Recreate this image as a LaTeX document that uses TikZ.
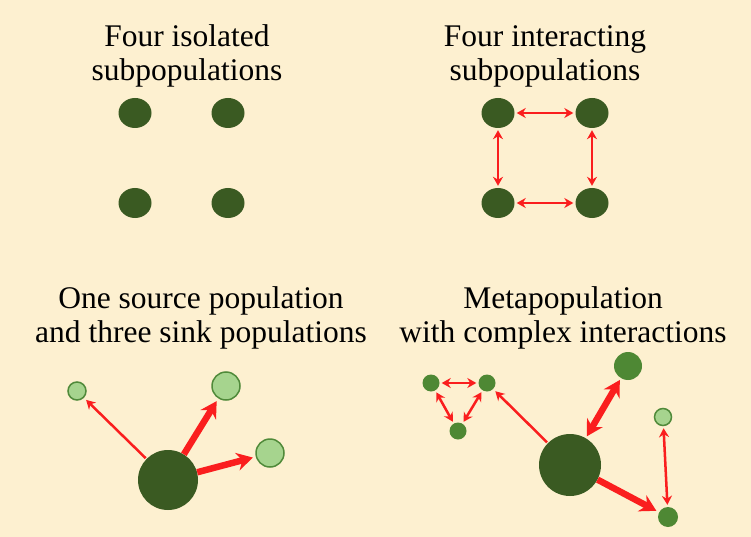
\documentclass[tikz,border=0pt]{standalone}
\usepackage{fontspec}
\setmainfont{Liberation Serif}
\usetikzlibrary{shapes.geometric,arrows.meta}
\definecolor{bg}{RGB}{253,240,208}
\definecolor{dkgreen}{RGB}{58,90,34}
\definecolor{mdgreen}{RGB}{78,136,52}
\definecolor{ltgreen}{RGB}{166,212,142}
\definecolor{ltborder}{RGB}{80,138,58}
\definecolor{arrred}{RGB}{250,30,30}
\tikzset{
  sub/.style={ellipse,fill=dkgreen,draw=none,minimum width=33pt,minimum height=30pt,inner sep=0pt},
  bigpop/.style={circle,fill=dkgreen,draw=none,inner sep=0pt},
  midpop/.style={circle,fill=mdgreen,draw=none,inner sep=0pt},
  sinkpop/.style={circle,fill=ltgreen,draw=ltborder,line width=1.5pt,inner sep=0pt},
  title/.style={align=center,font=\fontsize{31.5}{34}\selectfont,text=black},
  thinarr/.style={draw=arrred,line width=2.5pt,-{Stealth[length=9pt,width=10pt]},shorten >=1pt,shorten <=1pt},
  thindbl/.style={draw=arrred,line width=2.5pt,{Stealth[length=9pt,width=10pt]}-{Stealth[length=9pt,width=10pt]},shorten >=2pt,shorten <=2pt},
  thickarr/.style={draw=arrred,line width=6.5pt,-{Stealth[length=16pt,width=18pt]},shorten >=1pt},
  thickdbl/.style={draw=arrred,line width=6.5pt,{Stealth[length=16pt,width=18pt]}-{Stealth[length=16pt,width=18pt]},shorten >=2pt,shorten <=2pt},
}
\begin{document}
\begin{tikzpicture}[x=1pt,y=-1pt]
\fill[bg] (0,0) rectangle (751,537);
\useasboundingbox (0,0) rectangle (751,537);
% titles
\node[title] (t1) at (187,56) {Four isolated\\subpopulations};
\node[title] (t2) at (545,56) {Four interacting\\subpopulations};
\node[title] (t3) at (201,318) {One source population\\and three sink populations};
\node[title] (t4) at (563,318) {Metapopulation\\with complex interactions};
% panel 1
\node[sub] (a1) at (135,113) {};
\node[sub] (a2) at (228,113) {};
\node[sub] (a3) at (135,203) {};
\node[sub] (a4) at (228,203) {};
% panel 2
\node[sub] (b1) at (498,113) {};
\node[sub] (b2) at (592,113) {};
\node[sub] (b3) at (498,203) {};
\node[sub] (b4) at (592,203) {};
\draw[thindbl] (b1) -- (b2);
\draw[thindbl] (b3) -- (b4);
\draw[thindbl] (b1) -- (b3);
\draw[thindbl] (b2) -- (b4);
% panel 3
\node[bigpop,minimum size=60pt] (c0) at (168,480) {};
\node[sinkpop,minimum size=18pt] (c1) at (77,391) {};
\node[sinkpop,minimum size=28pt] (c2) at (226,386) {};
\node[sinkpop,minimum size=28pt] (c3) at (270,453) {};
\draw[thinarr,shorten >=3pt] (c0) -- (c1);
\draw[thickarr,shorten >=3pt] (c0) -- (c2);
\draw[thickarr,shorten >=3pt] (c0) -- (c3);
% panel 4
\node[bigpop,minimum size=62pt] (d0) at (570,465) {};
\node[midpop,minimum size=28pt] (d1) at (628,366) {};
\node[midpop,minimum size=17pt] (d2) at (431,383) {};
\node[midpop,minimum size=17pt] (d3) at (487,383) {};
\node[midpop,minimum size=17pt] (d4) at (458,431) {};
\node[sinkpop,minimum size=17pt] (d5) at (663,417) {};
\node[midpop,minimum size=20pt] (d6) at (668,517) {};
\draw[thindbl] (d2) -- (d3);
\draw[thindbl] (d2) -- (d4);
\draw[thindbl] (d3) -- (d4);
\draw[thinarr,shorten >=3pt] (d0) -- (d3);
\draw[thickdbl] (d0) -- (d1);
\draw[thickarr,shorten >=3pt] (d0) -- (d6);
\draw[thindbl] (d5) -- (d6);
\end{tikzpicture}
\end{document}
